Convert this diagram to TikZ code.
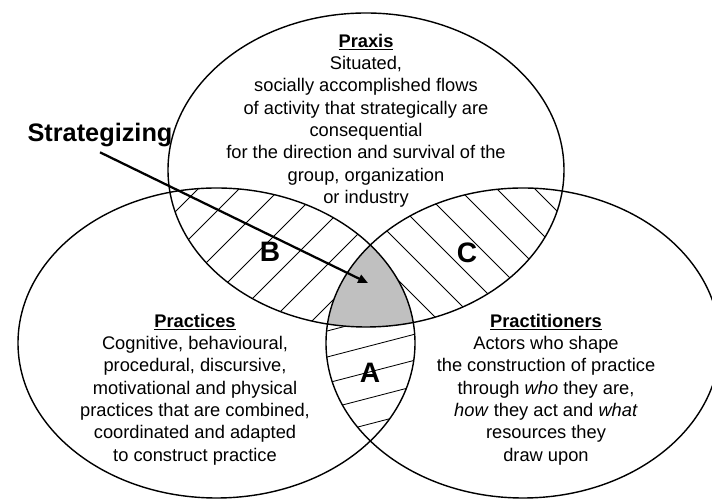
\documentclass[tikz,border=0pt]{standalone}
\usepackage{fontspec}
\setmainfont{Liberation Sans}
\usetikzlibrary{arrows.meta}
\definecolor{OverlapGrey}{HTML}{C0C0C0}
\definecolor{InkBlack}{HTML}{000000}
\tikzset{
    % Outline of each domain
    ringline/.style={
        draw=InkBlack,
        line width=1pt
    },
    % Hatching inside the pairwise overlaps
    hatch/.style={
        draw=InkBlack,
        line width=0.6pt
    },
    % Triple overlap
    overlap/.style={
        fill=OverlapGrey
    },
    % Domain description
    desc/.style={
        align=center,
        inner sep=0pt,
        font=\fontsize{13}{15.9}\selectfont
    },
    % Overlap letter
    region/.style={
        font=\fontsize{20}{24}\selectfont\bfseries
    },
    % Headline label
    headline/.style={
        font=\fontsize{18}{22}\selectfont\bfseries
    },
    % Arrow style
    pointer/.style={
        -{Triangle[length=7pt,width=6pt]},
        line width=1.6pt,
        color=InkBlack
    },
    % Shapes of the three domains
    praxis ring/.style={insert path={(366,329) ellipse [x radius=198, y radius=157]}},
    practice ring/.style={insert path={(216.5,156) ellipse [x radius=198.5, y radius=155]}},
    actor ring/.style={insert path={(523,156) ellipse [x radius=197, y radius=155]}}
}

\begin{document}
\begin{tikzpicture}[x=0.025cm, y=0.025cm]
        \useasboundingbox (0,0) rectangle (712,499);

        % B: praxis and practices
        \begin{scope}
            \clip [praxis ring];
            \clip [practice ring];
            \foreach \k in {-3,...,10}
                \draw [hatch] (-112+41*\k-300,-300) -- ++(800,800);
        \end{scope}
        % C: praxis and practitioners
        \begin{scope}
            \clip [praxis ring];
            \clip [actor ring];
            \foreach \k in {-4,...,8}
                \draw [hatch] (693+38*\k+300,-300) -- ++(-800,800);
        \end{scope}
        % A: practices and practitioners
        \begin{scope}
            \clip [practice ring];
            \clip [actor ring];
            \foreach \k in {-6,...,6}
                \draw [hatch] (0,57-26*\k) -- ++(712,185);
        \end{scope}
        % Strategizing core
        \begin{scope}
            \clip [praxis ring];
            \clip [practice ring];
            \fill [overlap, actor ring];
        \end{scope}

        \draw [ringline, praxis ring];
        \draw [ringline, practice ring];
        \draw [ringline, actor ring];

        % Texts
        \node (praxis) [desc, anchor=north] at (366,465.5) {
            \underline{\textbf{Praxis}}\\
            Situated,\\
            socially accomplished flows\\
            of activity that strategically are\\
            consequential\\
            for the direction and survival of the\\
            group, organization\\
            or industry};
        \node (practices) [desc, anchor=north] at (195,185.5) {
            \underline{\textbf{Practices}}\\
            Cognitive, behavioural,\\
            procedural, discursive,\\
            motivational and physical\\
            practices that are combined,\\
            coordinated and adapted\\
            to construct practice};
        \node (practitioners) [desc, anchor=north] at (546,185.5) {
            \underline{\textbf{Practitioners}}\\
            Actors who shape\\
            the construction of practice\\
            through \textit{who} they are,\\
            \textit{how} they act and \textit{what}\\
            resources they\\
            draw upon};

        \node (labB) [region] at (270,247) {B};
        \node (labC) [region] at (467,246) {C};
        \node (labA) [region] at (370,126) {A};

        \node (strat) [headline] at (100,363.5) {Strategizing};
        \coordinate (core) at (368,216);
        \draw [pointer] (strat.south) -- (core);
    \end{tikzpicture}
\end{document}
